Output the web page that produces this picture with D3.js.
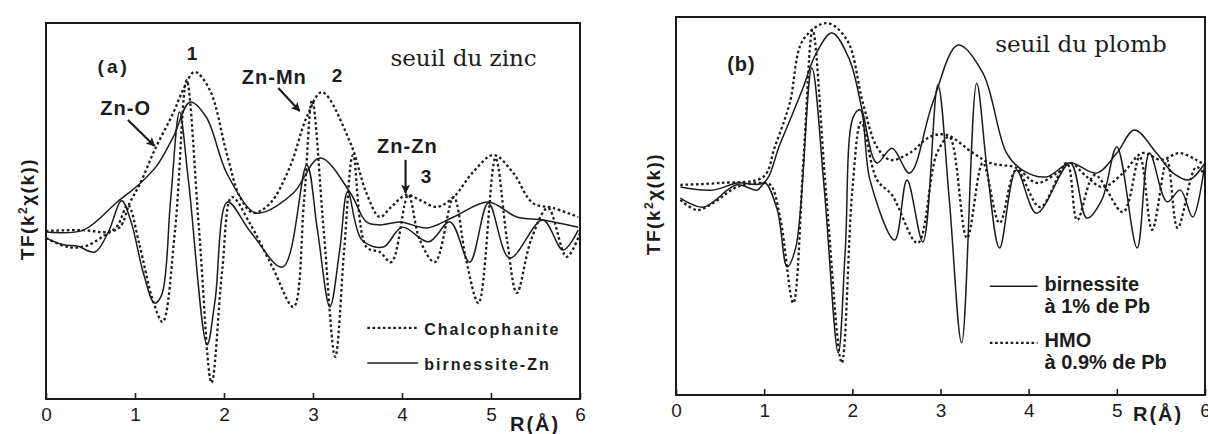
<!DOCTYPE html>
<html><head><meta charset="utf-8">
<script src="https://cdn.jsdelivr.net/npm/d3@7"></script>
<style>
html,body{margin:0;padding:0;background:#fff;}
svg{display:block;}
text{fill:#1c1c1c;}
</style></head>
<body>
<svg id="chart" width="1208" height="434"></svg>
<script>
// ---------- DATA (R in Å, amplitude in arbitrary units 0-100) ----------
const xTicks = [0, 1, 2, 3, 4, 5, 6];

// Panel (a) : seuil du zinc
const chalcoMag = [[0,44.7],[0.42,44.9],[0.68,44.4],[0.83,45.7],[0.94,52.1],[1.06,57.4],[1.22,66.2],[1.43,76.1],[1.54,82.2],[1.67,87.0],[1.84,82.2],[2.03,65.4],[2.18,53.7],[2.33,49.5],[2.52,52.1],[2.74,61.7],[2.93,75.0],[3.1,81.6],[3.42,68.1],[3.6,54.8],[3.75,48.4],[3.88,51.1],[4.05,54.3],[4.2,52.9],[4.39,51.1],[4.58,53.7],[4.8,60.4],[5.03,64.9],[5.25,60.1],[5.47,52.1],[5.7,50.8],[5.98,48.4]];
const chalcoIm = [[0,42.8],[0.25,40.4],[0.45,40.7],[0.65,43.4],[0.8,46.0],[0.92,51.6],[1.05,41.0],[1.2,26.3],[1.31,20.5],[1.45,44.9],[1.58,84.8],[1.72,44.9],[1.86,4.3],[1.98,34.3],[2.09,53.7],[2.3,46.3],[2.55,34.8],[2.78,24.5],[2.9,52.9],[2.99,79.5],[3.12,44.9],[3.25,11.2],[3.35,39.6],[3.45,64.9],[3.6,40.4],[3.75,39.1],[3.88,36.4],[4.07,54.3],[4.2,42.3],[4.37,36.4],[4.58,53.7],[4.72,37.0],[4.86,25.5],[5.05,64.1],[5.18,42.3],[5.29,28.2],[5.45,42.3],[5.64,50.8],[5.85,37.8],[6.0,44.1]];
const birnZnMag = [[0,44.4],[0.42,44.9],[0.8,52.4],[1.06,57.4],[1.25,62.2],[1.43,69.7],[1.62,79.0],[1.8,75.0],[2.03,60.1],[2.33,49.7],[2.45,49.7],[2.78,54.8],[3.08,64.1],[3.42,54.8],[3.6,47.1],[3.75,46.3],[3.98,47.1],[4.28,45.5],[4.58,48.4],[4.97,52.4],[5.29,48.4],[5.58,47.6],[5.98,45.7]];
const birnZnIm = [[0,42.8],[0.2,41.0],[0.35,40.7],[0.55,39.1],[0.7,44.4],[0.85,52.7],[0.95,47.6],[1.1,33.0],[1.22,25.5],[1.3,27.7],[1.4,52.9],[1.5,76.3],[1.6,58.2],[1.81,14.4],[1.9,26.3],[2.04,52.4],[2.3,44.4],[2.66,35.1],[2.93,62.2],[3.05,44.9],[3.19,24.5],[3.3,39.6],[3.39,55.1],[3.55,42.3],[3.79,40.4],[4.0,45.7],[4.3,41.8],[4.54,47.1],[4.76,36.4],[4.97,52.1],[5.21,37.5],[5.58,47.6],[5.81,39.6],[5.98,44.9]];

// Panel (b) : seuil du plomb
const hmoMag = [[0.05,55.6],[0.5,56.1],[0.99,57.7],[1.12,65.6],[1.29,77.2],[1.44,93.9],[1.71,98.4],[1.94,93.9],[2.12,77.2],[2.28,65.6],[2.43,62.2],[2.65,64.0],[2.88,68.3],[3.07,68.8],[3.37,64.0],[3.56,61.4],[3.86,60.1],[4.09,56.1],[4.32,58.7],[4.47,61.4],[4.66,57.7],[4.84,55.0],[5.07,58.7],[5.29,64.0],[5.5,62.2],[5.71,64.0],[5.9,62.2],[6.0,60.8]];
const hmoIm = [[0.05,51.6],[0.24,48.9],[0.42,50.8],[0.69,55.0],[0.95,56.1],[1.07,55.6],[1.18,47.1],[1.33,24.3],[1.45,64.0],[1.55,96.6],[1.7,54.2],[1.88,8.5],[2.0,54.2],[2.1,72.2],[2.28,56.9],[2.45,52.9],[2.74,40.2],[2.96,64.0],[3.1,68.3],[3.3,41.5],[3.48,61.4],[3.67,45.5],[3.86,59.5],[4.13,49.7],[4.43,61.4],[4.55,46.3],[4.75,58.2],[5.07,48.4],[5.26,63.0],[5.4,43.7],[5.57,62.2],[5.69,44.2],[5.9,60.3],[6.0,58.2]];
const birnPbMag = [[0.05,55.0],[0.42,54.2],[0.69,56.1],[0.99,56.1],[1.18,66.4],[1.44,81.2],[1.58,89.9],[1.77,95.8],[1.97,88.6],[2.12,74.6],[2.28,61.4],[2.45,65.3],[2.65,58.7],[2.91,77.2],[3.2,92.6],[3.48,85.2],[3.75,64.0],[3.93,59.5],[4.2,57.7],[4.47,61.4],[4.77,58.7],[5.0,64.0],[5.2,70.1],[5.45,64.0],[5.64,58.7],[5.82,56.9],[6.0,61.4]];
const birnPbIm = [[0.05,52.1],[0.31,49.7],[0.69,55.6],[0.92,54.2],[1.01,56.1],[1.15,48.9],[1.26,33.9],[1.36,39.2],[1.54,86.5],[1.68,55.0],[1.84,11.1],[1.92,38.4],[2.01,73.5],[2.09,75.4],[2.2,56.9],[2.48,41.0],[2.62,56.9],[2.8,40.5],[2.97,82.0],[3.1,51.6],[3.24,13.8],[3.41,82.5],[3.53,59.5],[3.67,38.9],[3.86,59.5],[4.09,48.1],[4.47,61.4],[4.66,46.8],[4.83,51.6],[5.0,65.6],[5.23,38.9],[5.37,64.0],[5.57,51.1],[5.72,54.2],[5.86,47.1],[6.0,61.4]];

// ---------- LAYOUT ----------
const panels = [
  {left:46, right:580, top:23, bottom:399, title:"seuil du zinc", tag:"(a)",
   series:[{d:chalcoMag,dot:true},{d:chalcoIm,dot:true},{d:birnZnMag,dot:false},{d:birnZnIm,dot:false}]},
  {left:676, right:1205, top:17, bottom:395, title:"seuil du plomb", tag:"(b)",
   series:[{d:hmoMag,dot:true},{d:hmoIm,dot:true},{d:birnPbMag,dot:false},{d:birnPbIm,dot:false}]}
];

const svg = d3.select("#chart");
const ink = "#1c1c1c";
const sans = "'Liberation Sans', Arial, sans-serif";
const serif = "'DejaVu Serif', serif";

const defs = svg.append("defs");
defs.append("marker").attr("id","ah").attr("viewBox","0 0 10 10").attr("refX",9).attr("refY",5)
  .attr("markerWidth",4.2).attr("markerHeight",4.2).attr("orient","auto")
  .append("path").attr("d","M0,0 L10,5 L0,10 L2.5,5 Z").attr("fill",ink);

panels.forEach((p,i)=>{
  const x = d3.scaleLinear().domain([0,6]).range([p.left,p.right]);
  const y = d3.scaleLinear().domain([0,100]).range([p.bottom,p.top]);
  p.x=x; p.y=y;
  const g = svg.append("g");
  const line = d3.line().x(d=>x(d[0])).y(d=>y(d[1])).curve(d3.curveCatmullRom.alpha(0.5));
  p.series.forEach(s=>{
    g.append("path").attr("d",line(s.d)).attr("fill","none").attr("stroke",ink)
      .attr("stroke-width",s.dot?2.3:1.5)
      .attr("stroke-dasharray",s.dot?"2.6,2.6":null)
      .attr("stroke-linejoin","round");
  });
  // frame
  g.append("rect").attr("x",p.left).attr("y",p.top).attr("width",p.right-p.left).attr("height",p.bottom-p.top)
    .attr("fill","none").attr("stroke",ink).attr("stroke-width",2);
  // x axis
  const ax = g.append("g").attr("transform",`translate(0,${p.bottom})`)
    .call(d3.axisBottom(x).tickValues(xTicks).tickFormat(d3.format("d")).tickSizeInner(-6).tickSizeOuter(0).tickPadding(9));
  ax.select(".domain").remove();
  ax.selectAll("line").attr("stroke",ink).attr("stroke-width",1.6);
  ax.selectAll("text").attr("font-family",sans).attr("font-size",19).attr("fill",ink);
  // axis titles
  g.append("text").attr("x",p.right-(i===0?70:72)).attr("y",p.bottom+(i===0?32:26))
    .attr("font-family",sans).attr("font-weight","bold").attr("font-size",20).attr("letter-spacing",2)
    .text("R(Å)");
  const yl = g.append("text").attr("transform",`translate(${p.left-(i===0?12:16)},${(p.top+p.bottom)/2-2}) rotate(-90)`)
    .attr("text-anchor","middle").attr("font-family",sans).attr("font-weight","bold").attr("font-size",19).attr("letter-spacing",1.5);
  yl.append("tspan").text("TF(k");
  yl.append("tspan").attr("dy",-7).attr("font-size",12).text("2");
  yl.append("tspan").attr("dy",7).text("χ(k))");
});

const A = panels[0], B = panels[1];
function txt(p, R, v, s, opt={}){
  return svg.append("text").attr("x",p.x(R)).attr("y",p.y(v))
    .attr("font-family",opt.serif?serif:sans).attr("font-weight",opt.serif?"normal":"bold")
    .attr("font-size",opt.size||20).attr("letter-spacing",opt.ls||0)
    .attr("text-anchor",opt.anchor||"start").text(s);
}
function arrow(p, R1, v1, R2, v2){
  svg.append("line").attr("x1",p.x(R1)).attr("y1",p.y(v1)).attr("x2",p.x(R2)).attr("y2",p.y(v2))
    .attr("stroke",ink).attr("stroke-width",2.2).attr("marker-end","url(#ah)");
}
// panel (a) annotations
txt(A,0.58,86.7,"(a)",{size:19,ls:3});
txt(A,1.64,90.2,"1",{size:19,anchor:"middle"});
txt(A,0.61,75.5,"Zn-O",{size:20,ls:1});
arrow(A,0.92,74.2,1.22,67.3);
txt(A,2.2,83.8,"Zn-Mn",{size:20,ls:1});
txt(A,3.27,84.3,"2",{size:19,anchor:"middle"});
arrow(A,2.61,82.7,2.85,76.6);
txt(A,3.72,65.4,"Zn-Zn",{size:20,ls:1});
arrow(A,4.04,63.6,4.04,54.8);
txt(A,4.21,57.4,"3",{size:19});
txt(A,3.87,88.6,"seuil du zinc",{serif:true,size:23});
// legend (a)
svg.append("line").attr("x1",A.x(3.61)).attr("x2",A.x(4.18)).attr("y1",A.y(18.9)).attr("y2",A.y(18.9))
  .attr("stroke",ink).attr("stroke-width",2.3).attr("stroke-dasharray","2.6,2.6");
txt(A,4.25,17.0,"Chalcophanite",{size:16,ls:2});
svg.append("line").attr("x1",A.x(3.61)).attr("x2",A.x(4.18)).attr("y1",A.y(9.6)).attr("y2",A.y(9.6))
  .attr("stroke",ink).attr("stroke-width",1.5);
txt(A,4.25,7.7,"birnessite-Zn",{size:16,ls:2});

// panel (b) annotations
txt(B,0.58,85.7,"(b)",{size:20,ls:1});
txt(B,3.62,90.7,"seuil du plomb",{serif:true,size:23});
svg.append("line").attr("x1",B.x(3.56)).attr("x2",B.x(4.10)).attr("y1",B.y(28.8)).attr("y2",B.y(28.8))
  .attr("stroke",ink).attr("stroke-width",1.5);
txt(B,4.18,27.4,"birnessite",{size:20});
txt(B,4.18,21.8,"à 1% de Pb",{size:20});
svg.append("line").attr("x1",B.x(3.56)).attr("x2",B.x(4.10)).attr("y1",B.y(13.8)).attr("y2",B.y(13.8))
  .attr("stroke",ink).attr("stroke-width",2.3).attr("stroke-dasharray","2.6,2.6");
txt(B,4.18,12.6,"HMO",{size:20});
txt(B,4.18,7.0,"à 0.9% de Pb",{size:20});
</script>
</body></html>
